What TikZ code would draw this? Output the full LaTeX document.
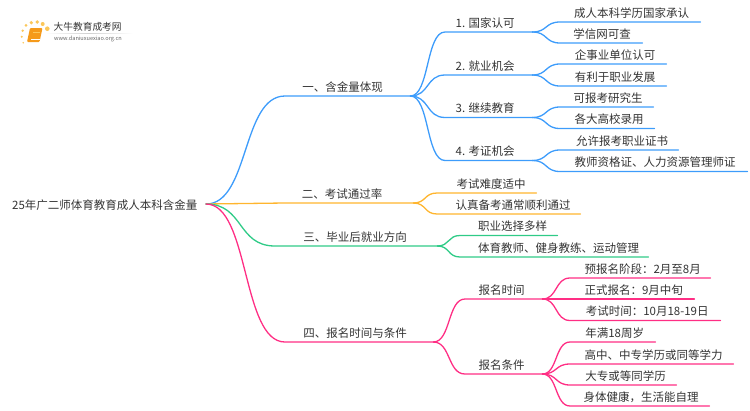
\documentclass[tikz,border=0pt]{standalone}
\usepackage{fontspec}
\usetikzlibrary{calc}
\setmainfont{Noto Sans CJK SC}
\definecolor{cblue}{HTML}{3D9CFB}
\definecolor{corange}{HTML}{FFB52E}
\definecolor{cgreen}{HTML}{2FCB87}
\definecolor{cpink}{HTML}{FF2E84}
\definecolor{ctext}{HTML}{333333}
\definecolor{cdot}{HTML}{FBC75A}
\definecolor{cbook}{HTML}{F59A1B}
\tikzset{
  tn/.style={anchor=south west,inner xsep=0pt,inner ysep=0pt,text height=10pt,text depth=4.7pt,
    text=ctext,font=\fontsize{11.5pt}{12pt}\selectfont},
  sh/.style={execute at begin node={\hspace{#1}}},
  link/.style={line width=1.3pt,line cap=round}
}
% #1 colour, #2 start point, #3 end node, #4 control fraction
\newcommand{\crv}[4]{\draw[link,#1] let \p1=(#2), \p2=(#3.south west), \n1={#4*(\x2-\x1)} in
  (\p1) .. controls (\x1+\n1,\y1) and (\x2-\n1,\y2) .. (\p2) -- (#3.south east);}
\newcommand{\lnk}[3]{\crv{#1}{#2.south east}{#3}{0.55}}
\begin{document}
\begin{tikzpicture}[x=1pt,y=-1pt]
\useasboundingbox (0,0) rectangle (750,410);
% logo
\foreach \a/\b/\r in {22.7/30.7/1.3,26/25.3/1.5,31.3/22.7/1.8,37.3/22/1.9,42.7/24/2,47.3/28.7/2.3,21.7/36.7/1.1,23.3/42.7/.9}
  \fill[cdot] (\a,\b) circle[radius=\r];
\fill[cbook,rounded corners=1pt] (30,28) -- (42.5,28) -- (39.5,42) -- (27,42) -- cycle;
\draw[white,line width=.5pt] (31,39.5) -- (39.5,39.5);
\draw[cdot,line width=.5pt] (33,32) -- (40,32);
\node[anchor=west,inner sep=0pt,text=ctext,font=\fontsize{9.7pt}{10pt}\selectfont] (logoa) at (53.5,27) {大牛教育成考网};
\node[anchor=west,inner sep=0pt,text=black!60,font=\fontsize{5.6pt}{6pt}\selectfont] (logob) at (54,39) {www.daniuxuexiao.org.cn};
\shade[left color=white,right color=white,middle color=black!18] (45,33) rectangle (133,33.6);
% root
\node[anchor=west,inner sep=0pt,text=ctext,font=\fontsize{11.5pt}{12pt}\selectfont] (root) at (12,205) {25年广二师体育教育成人本科含金量};
\coordinate (hub) at (206,204);
% level 1
\node[tn,sh=-10pt,minimum width=125pt] (a1) at (285,96) {一、含金量体现};
\node[tn,sh=-14pt,minimum width=128pt] (a2) at (285,203) {二、考试通过率};
\node[tn,sh=-2pt,minimum width=162pt] (a3) at (275,246) {三、毕业后就业方向};
\node[tn,sh=-8pt,minimum width=148pt] (a4) at (285,342) {四、报名时间与条件};
% level 2 blue
\node[tn,sh=-7pt,minimum width=87pt] (b1) at (445,32) {1. 国家认可};
\node[tn,sh=-7pt,minimum width=87pt] (b2) at (445,75) {2. 就业机会};
\node[tn,sh=-7pt,minimum width=87pt] (b3) at (445,117.5) {3. 继续教育};
\node[tn,sh=-7pt,minimum width=87pt] (b4) at (445,160.5) {4. 考证机会};
% leaves blue
\node[tn,sh=3pt,minimum width=140pt] (c1) at (560,22) {成人本科学历国家承认};
\node[tn,sh=2pt,minimum width=82pt] (c2) at (560,43) {学信网可查};
\node[tn,sh=4pt,minimum width=106pt] (c3) at (560,64) {企事业单位认可};
\node[tn,sh=4pt,minimum width=106pt] (c4) at (560,86) {有利于职业发展};
\node[tn,sh=3pt,minimum width=93pt] (c5) at (560,107) {可报考研究生};
\node[tn,sh=4pt,minimum width=94pt] (c6) at (560,128.5) {各大高校录用};
\node[tn,sh=6pt,minimum width=118pt] (c7) at (560,150) {允许报考职业证书};
\node[tn,sh=3pt,minimum width=187pt] (c8) at (560,171.5) {教师资格证、人力资源管理师证};
% orange leaves
\node[tn,sh=9pt,minimum width=99pt] (d1) at (437,193) {考试难度适中};
\node[tn,sh=9pt,minimum width=143pt] (d2) at (437,214) {认真备考通常顺利通过};
% green leaves
\node[tn,sh=8pt,minimum width=97pt] (e1) at (460,235.5) {职业选择多样};
\node[tn,sh=9pt,minimum width=188pt] (e2) at (460,257) {体育教师、健身教练、运动管理};
% pink
\node[tn,sh=-4pt,minimum width=77pt] (f1) at (465,299) {报名时间};
\node[tn,sh=-4pt,minimum width=77pt] (f2) at (465,374) {报名条件};
\node[tn,sh=5pt,minimum width=140pt] (g1) at (570,278) {预报名阶段：2月至8月};
\node[tn,sh=3pt,minimum width=124pt] (g2) at (570,299) {正式报名：9月中旬};
\node[tn,sh=4pt,minimum width=150pt] (g3) at (570,320.5) {考试时间：10月18-19日};
\node[tn,sh=4pt,minimum width=85pt] (h1) at (570,342) {年满18周岁};
\node[tn,sh=4pt,minimum width=163pt] (h2) at (570,364) {高中、中专学历或同等学力};
\node[tn,sh=5pt,minimum width=106pt] (h3) at (570,385) {大专或等同学历};
\node[tn,sh=3pt,minimum width=139pt] (h4) at (570,406) {身体健康，生活能自理};
% connectors
\crv{cblue}{hub}{a1}{0.55}
\crv{corange}{hub}{a2}{0.5}
\crv{cgreen}{hub}{a3}{0.55}
\crv{cpink}{hub}{a4}{0.55}
\lnk{cblue}{a1}{b1}\lnk{cblue}{a1}{b2}\lnk{cblue}{a1}{b3}\lnk{cblue}{a1}{b4}
\lnk{cblue}{b1}{c1}\lnk{cblue}{b1}{c2}\lnk{cblue}{b2}{c3}\lnk{cblue}{b2}{c4}
\lnk{cblue}{b3}{c5}\lnk{cblue}{b3}{c6}\lnk{cblue}{b4}{c7}\lnk{cblue}{b4}{c8}
\lnk{corange}{a2}{d1}\lnk{corange}{a2}{d2}
\lnk{cgreen}{a3}{e1}\lnk{cgreen}{a3}{e2}
\lnk{cpink}{a4}{f1}\lnk{cpink}{a4}{f2}
\lnk{cpink}{f1}{g1}\lnk{cpink}{f1}{g2}\lnk{cpink}{f1}{g3}
\lnk{cpink}{f2}{h1}\lnk{cpink}{f2}{h2}\lnk{cpink}{f2}{h3}\lnk{cpink}{f2}{h4}
\end{tikzpicture}
\end{document}
